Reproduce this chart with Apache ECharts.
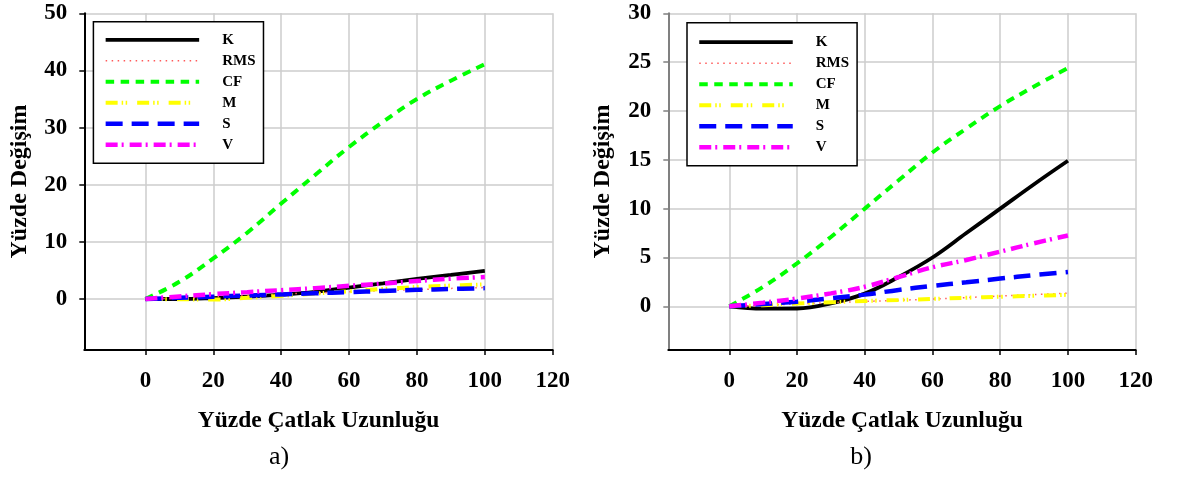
<!DOCTYPE html>
<html><head><meta charset="utf-8">
<script src="https://cdn.jsdelivr.net/npm/echarts@6/dist/echarts.min.js"></script>
<style>html,body{margin:0;padding:0;background:#fff}#c{width:1185px;height:477px}</style>
</head><body><div id="c"></div>
<script>
// ---- data ----
const xValues = [0, 10, 20, 30, 40, 50, 60, 70, 80, 90, 100];
const seriesNames = ['K', 'RMS', 'CF', 'M', 'S', 'V'];
const xTickLabels = [0, 20, 40, 60, 80, 100, 120];
const yTickLabelsA = [0, 10, 20, 30, 40, 50];
const yTickLabelsB = [0, 5, 10, 15, 20, 25, 30];

// chart a)
const kA   = [0, 0.0, 0.15, 0.4, 0.75, 1.25, 2.0, 2.75, 3.5, 4.2, 4.9];
const rmsA = [0, 0.15, 0.35, 0.6, 0.85, 1.05, 1.25, 1.45, 1.65, 1.85, 2.0];
const cfA  = [0, 3.0, 7.1, 11.6, 16.7, 21.7, 26.6, 31.0, 35.0, 38.2, 41.1];
const mA   = [0, -0.05, -0.1, 0.2, 0.55, 0.95, 1.35, 1.75, 2.1, 2.35, 2.55];
const sA   = [0, 0.2, 0.4, 0.6, 0.8, 1.0, 1.2, 1.4, 1.6, 1.75, 1.9];
const vA   = [0, 0.45, 0.85, 1.2, 1.55, 1.9, 2.3, 2.7, 3.15, 3.55, 3.85];

// chart b)
const kB   = [0, -0.24, -0.22, 0.3, 1.3, 3.0, 5.0, 7.5, 10.0, 12.5, 14.9];
const rmsB = [0, 0.1, 0.25, 0.38, 0.5, 0.62, 0.75, 0.9, 1.05, 1.2, 1.35];
const cfB  = [0, 2.0, 4.4, 7.1, 10.0, 12.9, 15.75, 18.2, 20.5, 22.5, 24.4];
const mB   = [0, 0.12, 0.28, 0.42, 0.55, 0.65, 0.76, 0.88, 0.98, 1.08, 1.18];
const sB   = [0, 0.24, 0.48, 0.82, 1.2, 1.68, 2.1, 2.46, 2.84, 3.2, 3.52];
const vB   = [0, 0.38, 0.8, 1.33, 2.0, 3.0, 4.0, 4.75, 5.6, 6.46, 7.25];

const dataA = [kA, rmsA, cfA, mA, sA, vA];
const dataB = [kB, rmsB, cfB, mB, sB, vB];

// ---- styles ----
const FONT = '"Liberation Serif", "Times New Roman", serif';
const lineStyles = [
  { color: '#000000', width: 3.8, type: 'solid' },
  { color: '#ff5a5a', width: 1.5, type: [1.5, 4.5] },
  { color: '#00ff00', width: 4,   type: [8.5, 6.5] },
  { color: '#ffff00', width: 4,   type: [12, 4, 1.5, 2.5, 1.5, 10] },
  { color: '#0000ff', width: 4.5, type: [17, 9] },
  { color: '#ff00ff', width: 4.5, type: [12, 4, 2, 6] }
];

function makeSeries(arrs, idx) {
  return seriesNames.map((name, i) => ({
    name: name,
    type: 'line',
    xAxisIndex: idx,
    yAxisIndex: idx,
    data: xValues.map((x, j) => [x, arrs[i][j]]),
    symbol: 'none',
    smooth: 0.4,
    color: lineStyles[i].color,
    lineStyle: lineStyles[i],
    animation: false
  }));
}

function xAxisCfg(idx) {
  return {
    type: 'value', gridIndex: idx, min: -18, max: 120,
    axisLine: { show: true, onZero: false, lineStyle: { color: '#000', width: 2 } },
    axisTick: { show: true, customValues: xTickLabels, length: 5, lineStyle: { color: '#000', width: 1.5 } },
    axisLabel: { customValues: xTickLabels, margin: 20, color: '#000', fontFamily: FONT, fontWeight: 'bold', fontSize: 23 },
    splitLine: { show: true, lineStyle: { color: '#cccccc', width: 1.5 } }
  };
}
function yAxisCfg(idx, min, max, ticks, axisColor) {
  return {
    type: 'value', gridIndex: idx, min: min, max: max,
    axisLine: { show: true, onZero: false, lineStyle: { color: axisColor, width: 2 } },
    axisTick: { show: true, customValues: ticks, length: 5, lineStyle: { color: axisColor, width: 1.5 } },
    axisLabel: { customValues: ticks, margin: 17, color: '#000', fontFamily: FONT, fontWeight: 'bold', fontSize: 23 },
    splitLine: { show: true, lineStyle: { color: '#cccccc', width: 1.5 } }
  };
}
function legendCfg(left, top, padTop) {
  return {
    orient: 'vertical', left: left, top: top,
    data: seriesNames,
    itemWidth: 93.5, itemHeight: 14, itemGap: 6,
    padding: [padTop, 8, 11, 10],
    backgroundColor: '#ffffff', borderColor: '#000000', borderWidth: 1.5,
    itemStyle: { opacity: 0 },
    lineStyle: { width: 'inherit', type: 'inherit', color: 'inherit' },
    textStyle: { color: '#000', fontFamily: FONT, fontWeight: 'bold', fontSize: 15, lineHeight: 14, padding: [0, 0, 0, 18] },
    selectedMode: false
  };
}
function txt(x, y, text, font, rot) {
  return { type: 'text', x: x, y: y, rotation: rot || 0,
    style: { text: text, font: font, fill: '#000', align: 'center', verticalAlign: 'middle' } };
}

const chart = echarts.init(document.getElementById('c'), null, { renderer: 'canvas' });
chart.setOption({
  animation: false,
  backgroundColor: '#ffffff',
  grid: [
    { left: 84.3, top: 13.3, width: 468.4, height: 336.7 },
    { left: 668.3, top: 13.3, width: 467.4, height: 336.7 }
  ],
  xAxis: [xAxisCfg(0), xAxisCfg(1)],
  yAxis: [
    yAxisCfg(0, -8.93, 50, yTickLabelsA, '#000000'),
    yAxisCfg(1, -4.47, 30, yTickLabelsB, '#808080')
  ],
  legend: [legendCfg(93.4, 21.7, 10.6), legendCfg(687, 22.7, 12)],
  series: makeSeries(dataA, 0).concat(makeSeries(dataB, 1)),
  graphic: [
    txt(20, 181.5, 'Yüzde Değişim', 'bold 24px ' + FONT, Math.PI / 2),
    txt(603, 181.5, 'Yüzde Değişim', 'bold 24px ' + FONT, Math.PI / 2),
    txt(318.5, 421, 'Yüzde Çatlak Uzunluğu', 'bold 23.5px ' + FONT),
    txt(902, 421, 'Yüzde Çatlak Uzunluğu', 'bold 23.5px ' + FONT),
    txt(279, 457, 'a)', '26px ' + FONT),
    txt(861, 457, 'b)', '26px ' + FONT)
  ]
});
</script>
</body></html>
